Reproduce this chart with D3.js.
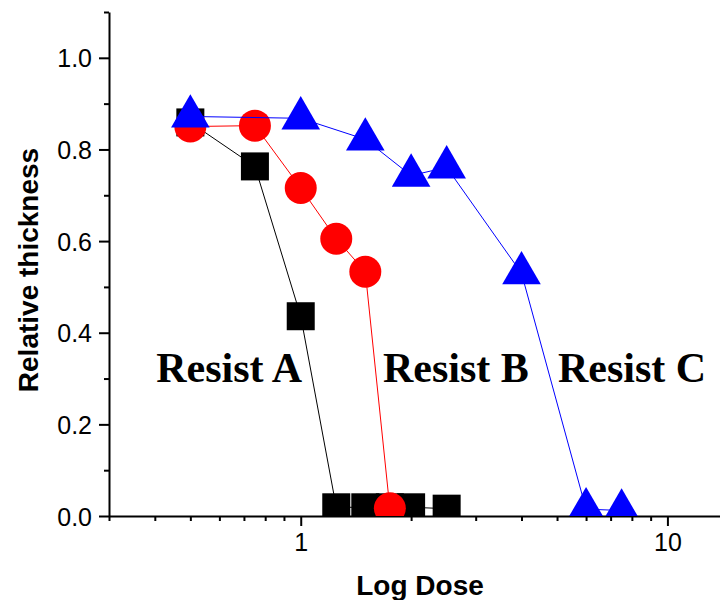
<!DOCTYPE html>
<html>
<head>
<meta charset="utf-8">
<script src="https://cdn.jsdelivr.net/npm/d3@7"></script>
<style>
  body { margin: 0; background: #fff; }
  .tick text { font-family: "Liberation Sans", Arial, sans-serif; }
</style>
</head>
<body>
<div id="chart"></div>
<script>
// data
const doseA = [0.5, 0.75, 1.0, 1.25, 1.5, 1.75, 2.0, 2.5];
const thickA = [0.859, 0.763, 0.436, 0.019, 0.019, 0.019, 0.019, 0.016];
const doseB = [0.5, 0.75, 1.0, 1.25, 1.5, 1.75];
const thickB = [0.850, 0.852, 0.716, 0.605, 0.533, 0.017];
const doseC = [0.5, 1.0, 1.5, 2.0, 2.5, 4.0, 6.0, 7.5];
const thickC = [0.872, 0.868, 0.822, 0.743, 0.761, 0.530, 0.015, 0.012];
const seriesNames = ["Resist A", "Resist B", "Resist C"];
const yTicks = [0, 0.2, 0.4, 0.6, 0.8, 1.0];
const xTicks = [1, 10];

const w = 720;
const h = 600;
const margin = {top: 12, right: -1, bottom: 84, left: 109};

const xScale = d3.scaleLog()
    .domain([0.3, 14])
    .range([margin.left, w - margin.right]);

const yScale = d3.scaleLinear()
    .domain([0, 1.1])
    .range([h - margin.bottom, margin.top]);

const svg = d3.select("div#chart")
  .append("svg")
    .attr("width", w)
    .attr("height", h);

svg.append("defs").append("clipPath")
    .attr("id", "plotclip")
  .append("rect")
    .attr("x", margin.left)
    .attr("y", margin.top)
    .attr("width", w - margin.left)
    .attr("height", yScale(0) - margin.top);

// minor ticks
const xMinor = d3.range(3, 10).map(d => d / 10).concat(d3.range(2, 10));
const yMinor = [0.1, 0.3, 0.5, 0.7, 0.9, 1.1];

svg.append("g")
    .attr("transform", `translate(0, ${yScale(0)})`)
    .call(d3.axisBottom(xScale).tickValues(xMinor).tickSize(5).tickFormat(""))
    .call(g => g.select(".domain").remove())
    .selectAll("line").attr("stroke-width", 2);

svg.append("g")
    .attr("transform", `translate(${margin.left}, 0)`)
    .call(d3.axisLeft(yScale).tickValues(yMinor).tickSize(5).tickFormat(""))
    .call(g => g.select(".domain").remove())
    .selectAll("line").attr("stroke-width", 2);

// major axes
const xAxis = svg.append("g")
    .attr("transform", `translate(0, ${yScale(0)})`)
    .call(d3.axisBottom(xScale).tickValues(xTicks).tickSize(10).tickSizeOuter(0)
      .tickFormat(d3.format("d")));
xAxis.select(".domain").attr("stroke-width", 2);
xAxis.selectAll(".tick line").attr("stroke-width", 2);
xAxis.selectAll(".tick text")
    .attr("font-size", 25)
    .attr("y", 35)
    .attr("dy", 0);

const yAxis = svg.append("g")
    .attr("transform", `translate(${margin.left}, 0)`)
    .call(d3.axisLeft(yScale).tickValues(yTicks).tickSize(10).tickSizeOuter(0)
      .tickFormat(d3.format(".1f")));
yAxis.select(".domain").attr("stroke-width", 2);
yAxis.selectAll(".tick line").attr("stroke-width", 2);
yAxis.selectAll(".tick text")
    .attr("font-size", 25)
    .attr("x", -17)
    .attr("dy", "0.36em");

// axis titles
svg.append("text")
    .attr("x", 420)
    .attr("y", 595)
    .attr("text-anchor", "middle")
    .attr("font-family", "Liberation Sans, Arial, sans-serif")
    .attr("font-weight", "bold")
    .attr("font-size", 28)
    .text("Log Dose");

svg.append("text")
    .attr("transform", "translate(38, 270) rotate(-90)")
    .attr("text-anchor", "middle")
    .attr("font-family", "Liberation Sans, Arial, sans-serif")
    .attr("font-weight", "bold")
    .attr("font-size", 28)
    .text("Relative thickness");

// series
const plot = svg.append("g").attr("clip-path", "url(#plotclip)");
const line = d3.line().x(d => xScale(d[0])).y(d => yScale(d[1]));

const dataA = doseA.map((d, i) => [d, thickA[i]]);
const dataB = doseB.map((d, i) => [d, thickB[i]]);
const dataC = doseC.map((d, i) => [d, thickC[i]]);

// Resist A - squares
plot.append("path").datum(dataA)
    .attr("d", line).attr("fill", "none").attr("stroke", "#000").attr("stroke-width", 1);
plot.selectAll("rect.ptA").data(dataA).enter().append("rect")
    .attr("class", "ptA")
    .attr("x", d => xScale(d[0]) - 14)
    .attr("y", d => yScale(d[1]) - 14)
    .attr("width", 28)
    .attr("height", 28)
    .attr("fill", "#000");

// Resist B - circles
plot.append("path").datum(dataB)
    .attr("d", line).attr("fill", "none").attr("stroke", "#ff0000").attr("stroke-width", 1);
plot.selectAll("circle.ptB").data(dataB).enter().append("circle")
    .attr("class", "ptB")
    .attr("cx", d => xScale(d[0]))
    .attr("cy", d => yScale(d[1]))
    .attr("r", 16)
    .attr("fill", "#ff0000");

// Resist C - triangles (centred on centroid)
plot.append("path").datum(dataC)
    .attr("d", line).attr("fill", "none").attr("stroke", "#0000ff").attr("stroke-width", 1);
plot.selectAll("path.ptC").data(dataC).enter().append("path")
    .attr("class", "ptC")
    .attr("d", "M0,-22.2L19.3,11.1L-19.3,11.1Z")
    .attr("transform", d => `translate(${xScale(d[0])}, ${yScale(d[1])})`)
    .attr("fill", "#0000ff");

// labels
const labelX = [302, 383, 558];
svg.selectAll("text.resist").data(seriesNames).enter().append("text")
    .attr("class", "resist")
    .attr("x", (d, i) => labelX[i])
    .attr("y", 382)
    .attr("text-anchor", (d, i) => i == 0 ? "end" : "start")
    .attr("font-family", "Liberation Serif, Times New Roman, serif")
    .attr("font-weight", "bold")
    .attr("font-size", 42)
    .text(d => d);
</script>
</body>
</html>
